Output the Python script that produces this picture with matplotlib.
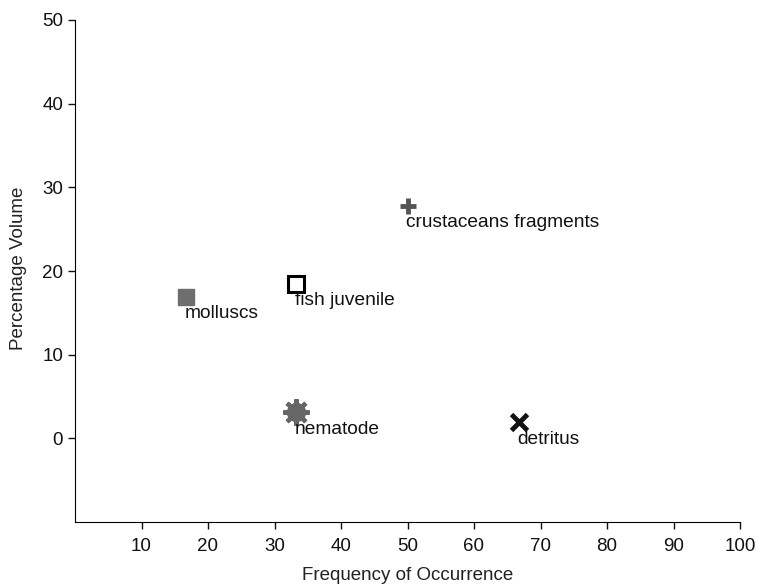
import matplotlib
matplotlib.use("Agg")
from matplotlib import pyplot as plt

plt.rcParams['font.family'] = ['Liberation Sans', 'DejaVu Sans']

# prey items: frequency of occurrence vs percentage volume
items = ["molluscs", "fish juvenile", "crustaceans fragments", "nematode", "detritus"]
freq = [16.7, 33.3, 50.0, 33.3, 66.7]
volume = [16.9, 18.5, 27.8, 3.1, 1.9]

xticks = [10, 20, 30, 40, 50, 60, 70, 80, 90, 100]
yticks = [0, 10, 20, 30, 40, 50]

# marker style per item
styles = {
    "molluscs":              dict(marker='s', ms=12, mfc='#6e6e6e', mec='#6e6e6e', mew=1),
    "fish juvenile":         dict(marker='s', ms=12, mfc='white', mec='black', mew=2.2),
    "crustaceans fragments": dict(marker='+', ms=12, mec='#555555', mew=3.5),
    "nematode":              dict(marker='o', ms=13, mfc='#666666', mec='#666666', mew=1),
    "detritus":              dict(marker='x', ms=11, mec='#111111', mew=3.5),
}

fig = plt.figure(figsize=(7.57, 5.84), dpi=100)
ax = fig.add_axes([75/757, 1 - 522/584, 665/757, 502/584])

for name, x, y in zip(items, freq, volume):
    ax.plot([x], [y], linestyle='none', zorder=3, **styles[name])
    if name == "nematode":
        # rays around the blob
        ax.plot([x], [y], linestyle='none', marker=(8, 2, 0), ms=19,
                mec='#666666', mew=3, zorder=3)
    ax.annotate(name, (x, y), xytext=(-1, -6), textcoords='offset points',
                ha='left', va='top', fontsize=13.8, color='#111111', zorder=4)

ax.set_xlim(0, 100)
ax.set_ylim(-10, 50)
ax.set_xticks(xticks)
ax.set_yticks(yticks)
ax.tick_params(direction='out', length=5, width=1, labelsize=13.5, colors='#111111')
ax.tick_params(axis='x', pad=6.5)
ax.tick_params(axis='y', pad=3.5)
ax.spines['top'].set_visible(False)
ax.spines['right'].set_visible(False)
ax.set_xlabel("Frequency of Occurrence", fontsize=13.5, color='#222222')
ax.set_ylabel("Percentage Volume", fontsize=13.5, color='#222222')
ax.xaxis.set_label_coords(0.5, -45 / 502)
ax.yaxis.set_label_coords(-48 / 665, 0.505)

fig.savefig("out.png", dpi=100)
